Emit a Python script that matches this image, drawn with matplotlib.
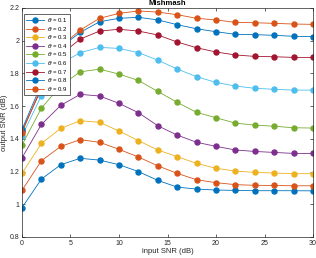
import matplotlib
matplotlib.use('Agg')
import matplotlib.pyplot as plt
from matplotlib.ticker import FormatStrFormatter

matplotlib.rc('font', size=5.5, family=['Liberation Sans', 'DejaVu Sans'])

snr_in = [0, 2, 4, 6, 8, 10, 12, 14, 16, 18, 20, 22, 24, 26, 28, 30]
thetas = [0.1, 0.2, 0.3, 0.4, 0.5, 0.6, 0.7, 0.8, 0.9]

snr_t01 = [0.979, 1.154, 1.242, 1.281, 1.270, 1.242, 1.200, 1.146, 1.105, 1.093, 1.087, 1.085, 1.083, 1.083, 1.083, 1.082]
snr_t02 = [1.085, 1.266, 1.354, 1.395, 1.379, 1.336, 1.289, 1.235, 1.189, 1.150, 1.132, 1.120, 1.116, 1.115, 1.113, 1.113]
snr_t03 = [1.189, 1.372, 1.464, 1.511, 1.501, 1.448, 1.389, 1.332, 1.291, 1.250, 1.220, 1.203, 1.195, 1.191, 1.187, 1.187]
snr_t04 = [1.284, 1.488, 1.605, 1.672, 1.662, 1.617, 1.560, 1.480, 1.423, 1.379, 1.354, 1.332, 1.323, 1.317, 1.311, 1.311]
snr_t05 = [1.362, 1.588, 1.725, 1.810, 1.826, 1.796, 1.757, 1.690, 1.623, 1.562, 1.529, 1.496, 1.484, 1.477, 1.468, 1.466]
snr_t06 = [1.418, 1.664, 1.860, 1.927, 1.959, 1.953, 1.927, 1.881, 1.827, 1.780, 1.745, 1.723, 1.709, 1.703, 1.698, 1.698]
snr_t07 = [1.448, 1.705, 1.915, 2.010, 2.059, 2.070, 2.059, 2.035, 1.992, 1.957, 1.931, 1.913, 1.904, 1.902, 1.898, 1.898]
snr_t08 = [1.458, 1.735, 1.960, 2.051, 2.116, 2.137, 2.143, 2.127, 2.098, 2.073, 2.055, 2.039, 2.037, 2.033, 2.027, 2.025]
snr_t09 = [1.437, 1.720, 1.965, 2.065, 2.137, 2.167, 2.182, 2.175, 2.159, 2.137, 2.127, 2.112, 2.110, 2.106, 2.102, 2.100]

series = [snr_t01, snr_t02, snr_t03, snr_t04, snr_t05, snr_t06, snr_t07, snr_t08, snr_t09]
# MATLAB default line order, wraps after 7
colors = ['#0072BD', '#D95319', '#EDB120', '#7E2F8E', '#77AC30',
          '#4DBEEE', '#A2142F', '#0072BD', '#D95319']

fig = plt.figure(figsize=(3.16, 2.58), dpi=100)
ax = fig.add_axes([0.0696, 0.0814, 0.921, 0.8876])

for theta, ys, c in zip(thetas, series, colors):
    ax.plot(snr_in, ys, color=c, marker='o', markersize=3.6, linewidth=0.6,
            label=rf'$\theta$ = {theta}')

ax.set_xlim(0, 30)
ax.set_ylim(0.8, 2.2)
ax.set_xticks([0, 5, 10, 15, 20, 25, 30])
ax.set_yticks([0.8, 1.0, 1.2, 1.4, 1.6, 1.8, 2.0, 2.2])
ax.yaxis.set_major_formatter(FormatStrFormatter('%g'))
ax.tick_params(direction='in', top=True, right=True, length=2.5, width=0.5,
               colors='#262626', labelsize=5, pad=2)
for s in ax.spines.values():
    s.set_linewidth(0.5)
    s.set_color('#262626')

ax.set_xlabel('input SNR (dB)', fontsize=5.5, labelpad=1, color='#262626')
ax.set_ylabel('output SNR (dB)', fontsize=5.5, labelpad=1, color='#262626')
ax.set_title('Mishmash', fontsize=5.5, fontweight='bold', pad=2)

leg = ax.legend(loc='upper left', bbox_to_anchor=(0.007, 0.974), borderaxespad=0,
                fontsize=4.3, frameon=True, fancybox=False, edgecolor='#262626',
                handlelength=3.0, labelspacing=0.1, borderpad=0.35,
                handletextpad=0.5, framealpha=1)
leg.get_frame().set_linewidth(0.5)

plt.savefig('out.png', dpi=100)
